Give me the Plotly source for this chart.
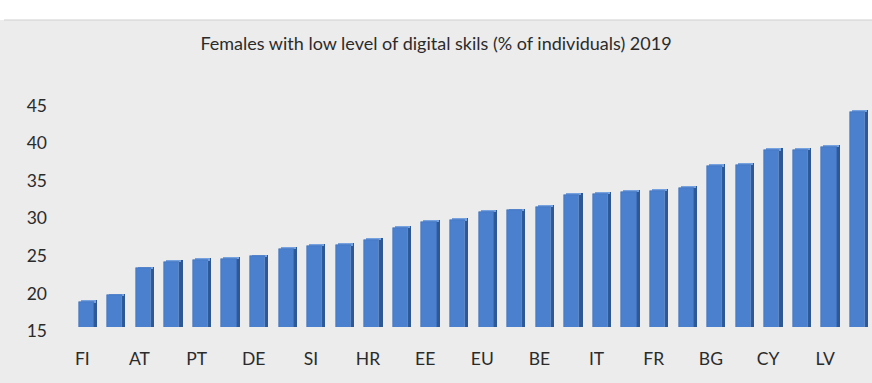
import plotly.graph_objects as go

# Share of females with low digital skills, 2019 (ascending), 28 bars
values = [18.3, 19.2, 22.8, 23.7, 23.9, 24.1, 24.4, 25.4, 25.8, 25.9,
          26.6, 28.2, 29.0, 29.2, 30.3, 30.5, 31.0, 32.6, 32.7, 33.0,
          33.1, 33.5, 36.4, 36.6, 38.5, 38.6, 39.0, 43.6]
positions = list(range(len(values)))

# Only every other bar carries a country label
tick_labels = ["FI", "AT", "PT", "DE", "SI", "HR", "EE",
               "EU", "BE", "IT", "FR", "BG", "CY", "LV"]
tick_positions = positions[0::2][:len(tick_labels)]

y_ticks = [15, 20, 25, 30, 35, 40, 45]

title_text = "Females with low level of digital skils (% of individuals) 2019"

FRONT = "#4b80cf"
SIDE = "#2d5894"
TOP = "#77a2e0"
BG = "#ececec"
TEXT = "#2b2b2b"
FONT = "Lato, 'Open Sans', sans-serif"

W, H = 872, 383
ML, MR, MT, MB = 72, 0, 95, 56
plot_h = H - MT - MB
px_per_unit = 7.52
y_min = 15
y_max = y_min + plot_h / px_per_unit
cap = 1.8 / px_per_unit  # depth of the bar top, in data units

fig = go.Figure()

# darker side face of each column
fig.add_trace(go.Bar(
    x=positions, y=[v + cap for v in values],
    width=0.12, offset=0.25,
    marker=dict(color=SIDE, line=dict(width=0)),
    hoverinfo="skip", showlegend=False,
))

# lighter top face
fig.add_trace(go.Bar(
    x=positions, y=[cap] * len(values), base=values,
    width=0.53, offset=-0.2,
    marker=dict(color=TOP, line=dict(width=0)),
    hoverinfo="skip", showlegend=False,
))

# front face carrying the value
fig.add_trace(go.Bar(
    x=positions, y=values,
    width=0.53, offset=-0.27,
    marker=dict(color=FRONT, line=dict(color="#3d6fb8", width=0.6)),
    showlegend=False,
    hovertemplate="%{y:.1f}<extra></extra>",
))

# white strip above the chart area with its thin border line
strip_bottom = (H - MB - 20) / plot_h
strip_top = (H - MB) / plot_h
fig.add_shape(type="rect", xref="paper", yref="paper",
              x0=-ML / (W - ML - MR) - 0.01, x1=1.01,
              y0=strip_bottom, y1=strip_top + 0.01,
              fillcolor="white", line=dict(width=0), layer="above")
fig.add_shape(type="line", xref="paper", yref="paper",
              x0=-ML / (W - ML - MR) + 0.005, x1=1.01,
              y0=strip_bottom, y1=strip_bottom,
              line=dict(color="#cfcfcf", width=1), layer="above")

fig.update_layout(
    width=W, height=H,
    margin=dict(l=ML, r=MR, t=MT, b=MB, pad=0),
    paper_bgcolor=BG, plot_bgcolor=BG,
    barmode="overlay",
    bargap=0,
    font=dict(family=FONT, color=TEXT, size=17),
    title=dict(text=title_text, x=0.5, xanchor="center",
               y=1 - 44 / H, yanchor="middle", yref="container",
               font=dict(family=FONT, size=18, color=TEXT)),
    xaxis=dict(
        range=[-0.5, len(values) - 0.5],
        tickmode="array", tickvals=tick_positions, ticktext=tick_labels,
        showgrid=False, zeroline=False, showline=False, ticks="",
        ticklabelstandoff=19, ticklabelshift=-4,
        tickfont=dict(size=17.5, color=TEXT),
    ),
    yaxis=dict(
        range=[y_min, y_max],
        tickmode="array", tickvals=y_ticks,
        showgrid=False, zeroline=False, showline=False, ticks="",
        ticklabelstandoff=24, ticklabelshift=4,
        tickfont=dict(size=17.5, color=TEXT),
    ),
)

fig.write_html("out.html")
